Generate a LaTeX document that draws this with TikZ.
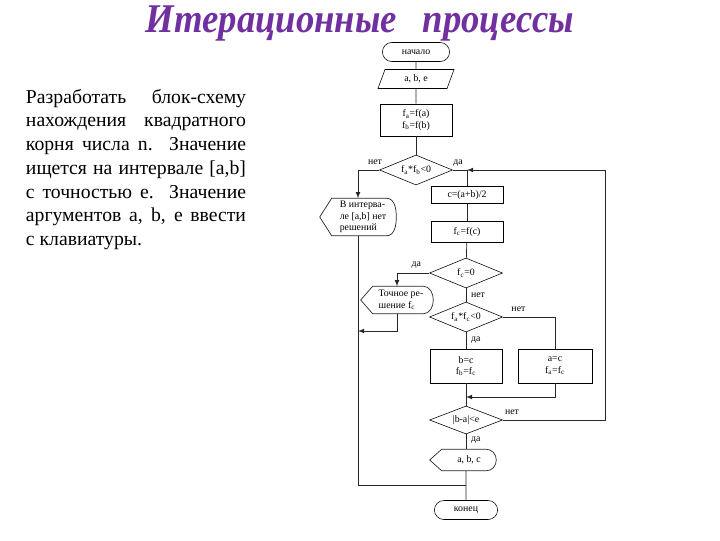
\documentclass[tikz,border=0pt]{standalone}
\usepackage{fontspec}
\setmainfont{LiberationSerif}[Extension=.ttf,UprightFont=*-Regular,BoldFont=*-Bold,ItalicFont=*-Italic,BoldItalicFont=*-BoldItalic]
\usetikzlibrary{shapes.geometric,shapes.misc}

\definecolor{titlepurple}{RGB}{112,48,160}

\tikzset{
  every node/.style={font=\fontsize{7}{8}\selectfont},
  term/.style={draw,rounded rectangle,minimum width=1.75cm,minimum height=0.475cm,inner sep=1pt},
  iobox/.style={draw,trapezium,trapezium left angle=58,trapezium right angle=122,trapezium stretches body,minimum width=1.9cm,minimum height=0.475cm,inner sep=1pt},
  proc/.style={draw,rectangle,minimum width=1.8cm,inner sep=1pt,align=center},
  cond/.style={draw,diamond,aspect=2.4,minimum width=1.825cm,minimum height=0.75cm,inner sep=0pt},
  disp/.style={minimum width=1.9cm,inner sep=1pt,align=left},
  line/.style={draw=black!85,line width=0.5pt},
}

% display box: pointed left side, rounded right side
\newcommand{\dispshape}[1]{
  \draw[line] (#1.west) -- ([xshift=0.3cm]#1.north west) -- ([xshift=-0.25cm]#1.north east)
    to[out=0,in=90] (#1.east) to[out=-90,in=0] ([xshift=-0.25cm]#1.south east)
    -- ([xshift=0.3cm]#1.south west) -- cycle;
}

\begin{document}
\begin{tikzpicture}[x=0.025cm,y=-0.025cm]
  \useasboundingbox (0,0) rectangle (720,540);

  % title and task
  \node[anchor=base,font=\fontsize{29}{34}\bfseries\itshape\selectfont,text=titlepurple,xscale=0.9] (title) at (360,32) {Итерационные\hspace{0.7em}процессы};
  \node[anchor=north west,text width=5.5cm,align=justify,font=\fontsize{14}{16.9}\selectfont] (task) at (21,84)
    {Разработать блок-схему\linebreak нахождения квадратного\linebreak корня числа n. Значение\linebreak
     ищется на интервале [a,b]\linebreak с точностью e. Значение\linebreak аргументов a, b, e ввести\linebreak с клавиатуры.};

  % blocks
  \node[term] at (416,52) (start) {начало};
  \node[iobox] at (416,79) (inp) {a,\ b,\ e};
  \node[proc,minimum height=0.8cm] at (416,120) (fab) {f\textsubscript{a}=f(a)\\ f\textsubscript{b}=f(b)};
  \node[cond] at (416,170) (chk1) {f\textsubscript{a}*f\textsubscript{b}<0};

  \node[disp,minimum height=0.925cm] at (358,217) (nosol) {\hspace*{0.25cm}В интерва-\\ \hspace*{0.25cm}ле [a,b] нет\\ \hspace*{0.25cm}решений};

  \node[proc,minimum height=0.425cm] at (467,195) (cmid) {c=(a+b)/2};
  \node[proc,minimum height=0.525cm] at (467,232) (fc) {f\textsubscript{c}=f(c)};
  \node[cond] at (466,273) (chk2) {f\textsubscript{c}=0};

  \node[disp,minimum width=1.8cm,minimum height=0.675cm] at (397,300) (exact) {\hspace*{0.2cm}Точное ре-\\ \hspace*{0.2cm}шение f\textsubscript{c}};

  \node[cond] at (466,317) (chk3) {f\textsubscript{a}*f\textsubscript{c}<0};
  \node[proc,minimum height=0.85cm] at (466,366) (setb) {b=c\\ f\textsubscript{b}=f\textsubscript{c}};
  \node[proc,minimum height=0.85cm,minimum width=1.85cm] at (555,366) (seta) {a=c\\ f\textsubscript{a}=f\textsubscript{c}};
  \node[cond,minimum height=0.7cm] at (466,420) (chk4) {|b-a|<e};

  \node[disp,minimum width=1.65cm,minimum height=0.525cm] at (463,460) (outp) {\hspace*{0.3cm}a, b, c};
  \node[term,minimum width=1.65cm] at (466,510) (stop) {конец};

  \dispshape{nosol}
  \dispshape{exact}
  \dispshape{outp}

  % junctions
  \coordinate (j1) at (467,170);
  \coordinate (j2) at (466,397);
  \coordinate (j3) at (466,485);
  \coordinate (r1) at (605,420);
  \coordinate (r2) at (605,170);
  \coordinate (l1) at (358,485);
  \coordinate (l2) at (358,331);

  % draw edges
  \draw[line] (start) -- (inp);
  \draw[line] (inp) -- (fab);
  \draw[line] (fab) -- (chk1);
  \draw[line,-latex] (chk1.west) -| (nosol.north) node[pos=0.1,above] {нет};
  \draw[line] (chk1.east) -- (j1) -- (cmid);
  \node at (458,163) (yes1) {да};
  \draw[line] (cmid) -- (fc);
  \draw[line] (fc) -- (chk2);
  \draw[line,-latex] (chk2.west) -| (exact.north) node[pos=0.2,above] {да};
  \draw[line] (chk2) -- (chk3) node[pos=0.5,right] {нет};
  \draw[line] (chk3) -- (setb) node[pos=0.45,right] {да};
  \draw[line] (chk3.east) -| (seta.north) node[pos=0.15,above] {нет};
  \draw[line,-latex] (seta.south) |- (j2);
  \draw[line] (setb) -- (chk4);
  \draw[line] (chk4.south) -- (chk4.south |- outp.north) node[pos=0.4,right] {да};
  \draw[line] (outp.south -| stop) -- (stop);
  \draw[line,-latex] (chk4.east) -- (r1) -- (r2) -- (j1);
  \node at (512,412) (no4) {нет};
  \draw[line] (nosol.south) -- (l1) -- (j3);
  \draw[line,-latex] (exact.south) |- (l2);
\end{tikzpicture}
\end{document}
